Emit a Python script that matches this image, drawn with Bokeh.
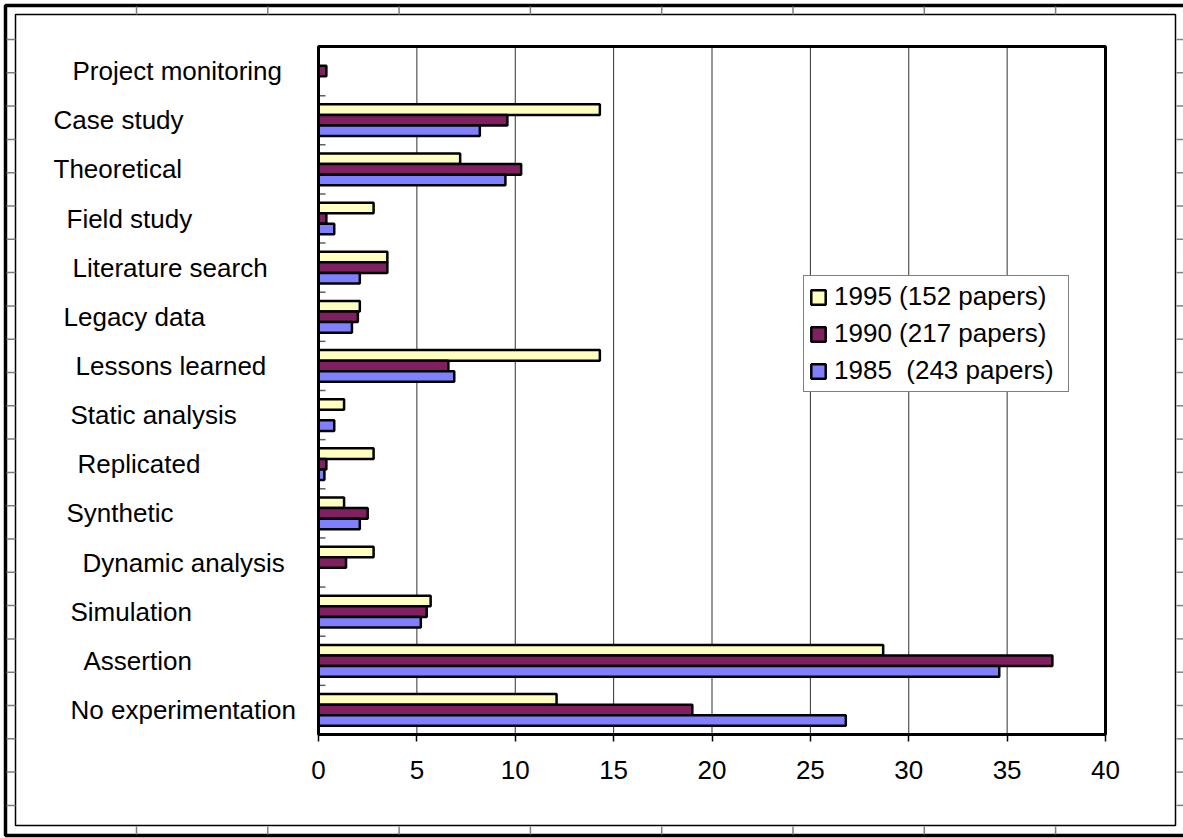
from bokeh.plotting import figure
from bokeh.models import (ColumnDataSource, Range1d, FixedTicker, LinearAxis,
                          Legend, LegendItem)
from bokeh.core.properties import value
from bokeh.embed import file_html
from bokeh.resources import INLINE

# ---------------- data ----------------
categories = ["Project monitoring", "Case study", "Theoretical", "Field study",
              "Literature search", "Legacy data", "Lessons learned", "Static analysis",
              "Replicated", "Synthetic", "Dynamic analysis", "Simulation", "Assertion",
              "No experimentation"]
y1995 = [0.0, 14.3, 7.2, 2.8, 3.5, 2.1, 14.3, 1.3, 2.8, 1.3, 2.8, 5.7, 28.7, 12.1]
y1990 = [0.4, 9.6, 10.3, 0.4, 3.5, 2.0, 6.6, 0.0, 0.4, 2.5, 1.4, 5.5, 37.3, 19.0]
y1985 = [0.0, 8.2, 9.5, 0.8, 2.1, 1.7, 6.9, 0.8, 0.3, 2.1, 0.0, 5.2, 34.6, 26.8]
series_labels = ["1995 (152 papers)", "1990 (217 papers)", "1985  (243 papers)"]
x_ticks = [0, 5, 10, 15, 20, 25, 30, 35, 40]

# ---------------- layout / style ----------------
W, H = 1183, 838
FL, FR, FT, FB = 318, 1105, 46, 734          # plot area in page pixels
XMAX = 40
FONT = "Liberation Sans"
FS = "26px"
colors = ["#FFFFC0", "#802060", "#8080FF"]
label_left = [72, 53, 53, 66, 72, 63, 75, 70, 77, 66, 82, 70, 83, 70]
ncat = len(categories)


def dx(sx):
    return (sx - FL) / (FR - FL) * XMAX


def dy(sy):
    return (FB - sy) / (FB - FT) * ncat


p = figure(width=W, height=H, x_range=Range1d(dx(0), dx(W)), y_range=Range1d(dy(H), dy(0)),
           output_backend="svg", toolbar_location=None,
           x_axis_location=None, y_axis_location=None, min_border=0)
p.background_fill_color = "white"
p.border_fill_color = "white"
p.outline_line_color = None
p.xgrid.visible = False
p.ygrid.visible = False

# category centres (top to bottom)
ypos = [ncat - i - 0.5 for i in range(ncat)]
src = ColumnDataSource(dict(cat=categories, y=ypos, y1995=y1995, y1990=y1990, y1985=y1985,
                            lx=[dx(v) for v in label_left]))

# vertical grid lines inside the plot area
grid_x = x_ticks[1:-1]
p.segment(x0=grid_x, x1=grid_x, y0=[0] * len(grid_x), y1=[ncat] * len(grid_x),
          line_color="#303030", line_width=1)

# bars
h = 0.215
renderers = []
for col, off, c in zip(["y1995", "y1990", "y1985"], [h, 0, -h], colors):
    yy = [v + off for v in ypos]
    s = ColumnDataSource(dict(y=yy, right=src.data[col]))
    r = p.hbar(y="y", left=0, right="right", height=h, source=s,
               fill_color=c, line_color="black", line_width=2.5)
    renderers.append(r)

# inward tick marks at category boundaries
bounds = list(range(1, ncat))
p.segment(x0=[0] * len(bounds), x1=[dx(FL + 7)] * len(bounds), y0=bounds, y1=bounds,
          line_color="#606060", line_width=1.5)

# plot area border
p.quad(left=[0], right=[XMAX], bottom=[0], top=[ncat], fill_color=None,
       line_color="black", line_width=3)

# value axis
xax = LinearAxis(fixed_location=0, bounds=(0, XMAX))
xax.ticker = FixedTicker(ticks=x_ticks)
xax.axis_line_color = "black"
xax.axis_line_width = 3
xax.major_tick_out = 7
xax.major_tick_in = 0
xax.major_tick_line_color = "black"
xax.major_tick_line_width = 1.5
xax.minor_tick_line_color = None
xax.major_label_text_font = FONT
xax.major_label_text_font_size = FS
xax.major_label_text_color = "black"
xax.major_label_standoff = 19
p.add_layout(xax, "below")

# category labels
p.text(x="lx", y="y", text="cat", source=src, text_font=value(FONT),
       text_font_size=value(FS), text_color="black",
       text_align="left", text_baseline="middle")

# chart area frames (spreadsheet object)
p.quad(left=[dx(5)], right=[dx(1200)], top=[dy(5)], bottom=[dy(835)],
       fill_color=None, line_color="black", line_width=3.5)
p.quad(left=[dx(15)], right=[dx(1175)], top=[dy(14)], bottom=[dy(825)],
       fill_color=None, line_color="black", line_width=1.5)

# spreadsheet cell marks between the frames
xs0, ys0, xs1, ys1 = [], [], [], []
for k in range(8):
    sx = 136 + 131.3 * k
    xs0 += [dx(sx), dx(sx)]; xs1 += [dx(sx), dx(sx)]
    ys0 += [dy(6), dy(826)]; ys1 += [dy(14), dy(834)]
for k in range(24):
    sy = 39 + 33.3 * k
    xs0 += [dx(6), dx(1176)]; xs1 += [dx(15), dx(1183)]
    ys0 += [dy(sy), dy(sy)]; ys1 += [dy(sy), dy(sy)]
p.segment(x0=xs0, y0=ys0, x1=xs1, y1=ys1, line_color="#808080", line_width=1.5)

legend = Legend(items=[LegendItem(label=lab, renderers=[r])
                       for lab, r in zip(series_labels, renderers)],
                location=(803, H - 392), label_text_font=FONT, label_text_font_size=FS,
                label_text_color="black",
                glyph_width=18, glyph_height=18, label_standoff=7, padding=5, spacing=6,
                label_height=29, label_width=229, margin=0,
                border_line_color="black", border_line_width=1,
                background_fill_color="white", background_fill_alpha=1)
p.add_layout(legend)

open("out.html", "w").write(file_html(p, INLINE))
